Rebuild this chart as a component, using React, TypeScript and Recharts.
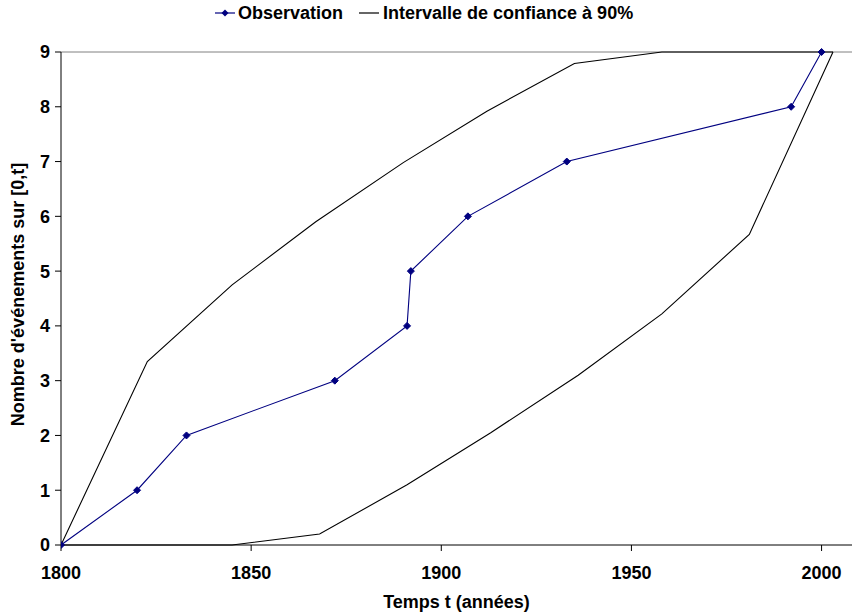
import React from "react";
import {
  LineChart,
  Line,
  XAxis,
  YAxis,
  ReferenceLine,
  Label,
} from "recharts";

const obsYears = [1800, 1820, 1833, 1872, 1891, 1892, 1907, 1933, 1992, 2000];
const obsCounts = [0, 1, 2, 3, 4, 5, 6, 7, 8, 9];

const upperYears = [1800, 1822.7, 1845, 1867, 1890, 1912, 1935, 1958, 2003];
const upperCounts = [0, 3.35, 4.75, 5.9, 6.98, 7.92, 8.79, 9, 9];

const lowerYears = [1800, 1845, 1868, 1891, 1913, 1936, 1958, 1981, 2003];
const lowerCounts = [0, 0, 0.2, 1.1, 2.05, 3.1, 4.22, 5.67, 9];

const xTicks = [1800, 1850, 1900, 1950, 2000];
const yTicks = [0, 1, 2, 3, 4, 5, 6, 7, 8, 9];

const obsData = obsYears.map((t, i) => ({ t, v: obsCounts[i] }));
const upperData = upperYears.map((t, i) => ({ t, v: upperCounts[i] }));
const lowerData = lowerYears.map((t, i) => ({ t, v: lowerCounts[i] }));

const FONT = "Arial, 'Liberation Sans', Helvetica, sans-serif";
const BLUE = "#000080";
const FS = 18;

const Diamond = (props: any) => {
  const { cx, cy } = props;
  if (cx == null || cy == null) return null;
  const r = 3.5;
  return (
    <path
      d={`M${cx},${cy - r} L${cx + r},${cy} L${cx},${cy + r} L${cx - r},${cy} Z`}
      fill={BLUE}
      stroke={BLUE}
      strokeWidth={1}
    />
  );
};

export default function App() {
  return (
    <div style={{ position: "absolute", left: 0, top: 0, width: 853, height: 612, background: "#fff", fontFamily: FONT }}>
      <div
        style={{
          position: "absolute",
          top: 2,
          left: 215,
          height: 22,
          display: "flex",
          alignItems: "center",
          fontSize: FS,
          fontWeight: "bold",
          fontFamily: FONT,
          whiteSpace: "nowrap",
        }}
      >
        <svg width={20} height={10} style={{ marginRight: 3 }}>
          <line x1={0} y1={5} x2={20} y2={5} stroke={BLUE} strokeWidth={1.2} />
          <path d="M10,1.5 L13.5,5 L10,8.5 L6.5,5 Z" fill={BLUE} />
        </svg>
        <span>Observation</span>
        <svg width={20} height={10} style={{ marginLeft: 16, marginRight: 4 }}>
          <line x1={0} y1={5} x2={20} y2={5} stroke="#000" strokeWidth={1.2} />
        </svg>
        <span>Intervalle de confiance à 90%</span>
      </div>
      <LineChart
        width={853}
        height={612}
        margin={{ top: 52, right: 1, bottom: 0, left: 0 }}
        style={{ position: "absolute", left: 0, top: 0 }}
      >
        <XAxis
          dataKey="t"
          type="number"
          domain={[1800, 2008]}
          ticks={xTicks}
          allowDataOverflow
          height={67}
          tickSize={6}
          tickMargin={15}
          stroke="#000"
          tick={{ fill: "#000", fontSize: FS, fontWeight: "bold", fontFamily: FONT }}
          tickLine={{ stroke: "#000" }}
        >
          <Label
            value="Temps t (années)"
            position="insideBottom"
            offset={4}
            style={{ fill: "#000", fontSize: FS, fontWeight: "bold", fontFamily: FONT }}
          />
        </XAxis>
        <YAxis
          dataKey="v"
          type="number"
          domain={[0, 9]}
          ticks={yTicks}
          width={61}
          tickSize={6}
          tickMargin={5}
          stroke="#000"
          tick={{ fill: "#000", fontSize: FS, fontWeight: "bold", fontFamily: FONT }}
          tickLine={{ stroke: "#000" }}
        >
          <Label
            content={(p: any) => {
              const vb = p.viewBox || {};
              const cy = (vb.y ?? 52) + (vb.height ?? 493) / 2 - 4;
              const cx = 18;
              return (
                <text
                  x={cx}
                  y={cy}
                  transform={`rotate(-90, ${cx}, ${cy})`}
                  textAnchor="middle"
                  dominantBaseline="central"
                  style={{ fill: "#000", fontSize: FS, fontWeight: "bold", fontFamily: FONT }}
                >
                  Nombre d'événements sur [0,t]
                </text>
              );
            }}
          />
        </YAxis>
        <ReferenceLine y={9} stroke="#808080" strokeWidth={1} />
        <Line
          data={upperData}
          dataKey="v"
          type="linear"
          stroke="#000"
          strokeWidth={1.1}
          dot={false}
          isAnimationActive={false}
        />
        <Line
          data={lowerData}
          dataKey="v"
          type="linear"
          stroke="#000"
          strokeWidth={1.1}
          dot={false}
          isAnimationActive={false}
        />
        <Line
          data={obsData}
          dataKey="v"
          type="linear"
          stroke={BLUE}
          strokeWidth={1.1}
          dot={<Diamond />}
          isAnimationActive={false}
        />
      </LineChart>
    </div>
  );
}
